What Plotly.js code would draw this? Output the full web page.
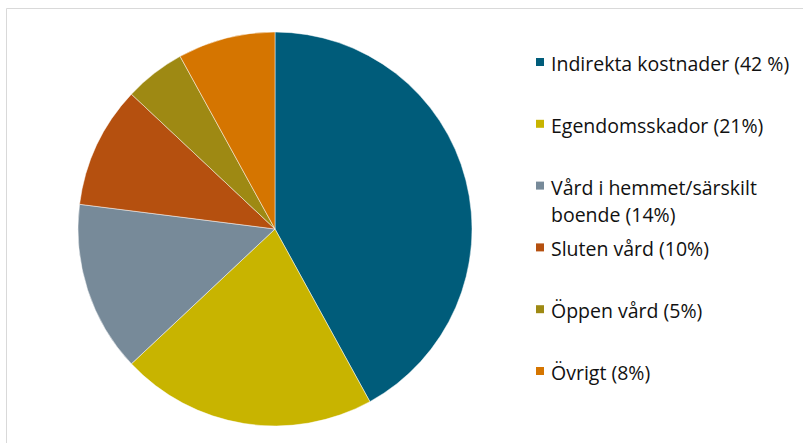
<!DOCTYPE html>
<html>
<head>
<meta charset="utf-8">
<script src="https://cdn.plot.ly/plotly-3.0.1.min.js"></script>
<style>
html,body{margin:0;padding:0;background:#fff;}
#chart{width:803px;height:443px;}
</style>
</head>
<body>
<div id="chart"></div>
<script>
// Data
var categories = [
  "Indirekta kostnader (42 %)",
  "Egendomsskador (21%)",
  "Vård i hemmet/särskilt<br>boende (14%)",
  "Sluten vård (10%)",
  "Öppen vård (5%)",
  "Övrigt (8%)"
];
var values = [42, 21, 14, 10, 5, 8];
var colors = ["#005C7A", "#C8B400", "#778A99", "#B5500F", "#9E8913", "#D57500"];

// Layout helpers (pixel -> paper)
var W = 803, H = 443;
function px(x){ return x / W; }
function py(y){ return 1 - y / H; }

var cx = 275, cy = 229, r = 197;

var trace = {
  type: "pie",
  values: values,
  labels: categories,
  marker: { colors: colors, line: { color: "rgba(255,255,255,0.6)", width: 0.8 } },
  sort: false,
  direction: "clockwise",
  rotation: 0,
  textinfo: "none",
  hoverinfo: "label+value",
  domain: { x: [px(cx - r), px(cx + r)], y: [py(cy + r), py(cy - r)] },
  showlegend: false
};

var annotations = [];
var shapes = [];
// frame border
shapes.push({ type: "rect", xref: "paper", yref: "paper",
  x0: px(6.5), x1: px(820), y0: py(460), y1: py(8.5),
  line: { color: "#D9D9D9", width: 1 }, fillcolor: "rgba(0,0,0,0)", layer: "below" });

var rowStart = 63.5, rowStep = 61.8, lineStep = 27.5;
categories.forEach(function(lbl, i){
  var rowY = rowStart + rowStep * i;
  var lines = lbl.split("<br>");
  lines.forEach(function(t, k){
    annotations.push({
      xref: "paper", yref: "paper",
      x: px(549), y: py(rowY + lineStep * k),
      xanchor: "left", yanchor: "middle",
      text: t, showarrow: false,
      font: { family: "'Open Sans', sans-serif", size: 19.5, color: "#111111" }
    });
  });
  var sy = rowY - 1.5;
  shapes.push({ type: "rect", xref: "paper", yref: "paper",
    x0: px(536), x1: px(544), y0: py(sy + 4), y1: py(sy - 4),
    line: { width: 0 }, fillcolor: colors[i] });
});

var layout = {
  width: W, height: H,
  margin: { l: 0, r: 0, t: 0, b: 0 },
  paper_bgcolor: "#ffffff",
  showlegend: false,
  annotations: annotations,
  shapes: shapes
};

Plotly.newPlot("chart", [trace], layout, { displayModeBar: false, staticPlot: true });
</script>
</body>
</html>
